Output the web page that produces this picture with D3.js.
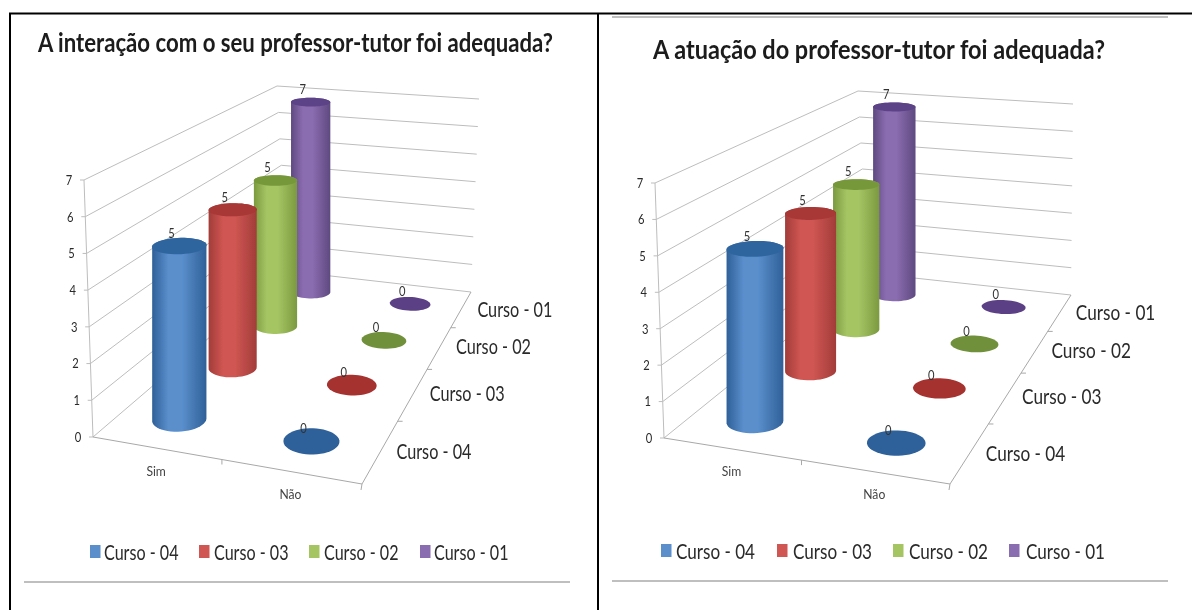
<!DOCTYPE html>
<html><head><meta charset="utf-8">
<script src="https://cdn.jsdelivr.net/npm/d3@7"></script>
<style>html,body{margin:0;padding:0;background:#fff}svg{display:block}text{font-family:Lato,"Open Sans",sans-serif}</style>
</head><body><svg id="c" width="1192" height="610"></svg>
<script>
const answers=["Sim","Não"];
const courses=["Curso - 04","Curso - 03","Curso - 02","Curso - 01"];
const curso04=[5,0],curso03=[5,0],curso02=[5,0],curso01=[7,0];
const seriesValues=[curso04,curso03,curso02,curso01];
const yTicks=[0,1,2,3,4,5,6,7];
const titles=["A interação com o seu professor-tutor foi adequada?","A atuação do professor-tutor foi adequada?"];
const palette=[
 {mid:"#5a8fcc",edge:"#2f6098",top:"#2f659f",disc:"#2d6099"},
 {mid:"#cf5652",edge:"#a23c39",top:"#a73735",disc:"#a5302f"},
 {mid:"#a5c564",edge:"#7b9a3f",top:"#77973a",disc:"#71903a"},
 {mid:"#8a6cb0",edge:"#5f4a80",top:"#5c4286",disc:"#5b3f85"}];

const panels=[
 {title:titles[0],titleX:38,titleW:515,titleY:52,
  floor:[[93,437],[362,484],[471,292],[287,271]],
  top:[[84,180],[367,216],[479,99],[277,86]],
  legend:[[90,104],[199,214],[309,324],[420,434]],legendY:552,ru:.1,rv:.049,textW:75,line:[24,570,582]},
 {title:titles[1],titleX:653,titleW:452,titleY:59,
  floor:[[664,438],[950,484],[1071,295],[868,273]],
  top:[[655,183],[955,218],[1073,104],[858,91]],
  legend:[[661,676],[777,793],[893,909],[1009,1026]],legendY:551,ru:.098,rv:.049,textW:79.5,line:[612,1168,581]}];

function homography(q){
 const [[x0,y0],[x1,y1],[x2,y2],[x3,y3]]=q;
 const dx1=x1-x2,dx2=x3-x2,sx=x0-x1+x2-x3,dy1=y1-y2,dy2=y3-y2,sy=y0-y1+y2-y3;
 const det=dx1*dy2-dx2*dy1;
 const g=(sx*dy2-dx2*sy)/det,h=(dx1*sy-sx*dy1)/det;
 const a=x1-x0+g*x1,b=x3-x0+h*x3,d=y1-y0+g*y1,e=y3-y0+h*y3;
 return (u,v)=>{const w=g*u+h*v+1;return [(a*u+b*v+x0)/w,(d*u+e*v+y0)/w];};
}
const svg=d3.select("#c");
const defs=svg.append("defs");
defs.append("filter").attr("id","soft")
 .attr("filterUnits","userSpaceOnUse").attr("primitiveUnits","userSpaceOnUse")
 .attr("x",0).attr("y",0).attr("width",1192).attr("height",610)
 .append("feGaussianBlur").attr("stdDeviation",.45);
palette.forEach((c,i)=>{
 const g=defs.append("linearGradient").attr("id","grad"+i);
 [[0,c.edge],[.3,c.mid],[.55,c.mid],[1,c.edge]].forEach(([o,col])=>g.append("stop").attr("offset",o).attr("stop-color",col));
});

const root=svg.append("g").attr("filter","url(#soft)");
const uScale=d3.scalePoint().domain(answers).range([-.03,1.006]).padding(.5);
const vScale=d3.scaleBand().domain(courses).range([-.012,.988]);
const hScale=d3.scaleLinear().domain([0,7]).range([0,1]);
const markShrink=.98, topSquash=.68;

function label(g,x,y,t,size,opts={}){
 const s=g.append("text").attr("x",x).attr("y",y).attr("dy",".35em").text(t)
  .attr("font-size",size).attr("fill",opts.fill||"#2a2a2a").attr("text-anchor",opts.anchor||"start");
 if(opts.len) s.attr("textLength",opts.len).attr("lengthAdjust","spacingAndGlyphs");
 return s;
}

panels.forEach(P=>{
 const g=root.append("g");
 const F=homography(P.floor),T=homography(P.top);
 const p=(u,v,val)=>{const a=F(u,v),b=T(u,v),t=hScale(val);return [a[0]+(b[0]-a[0])*t,a[1]+(b[1]-a[1])*t];};
 g.append("text").attr("x",P.titleX).attr("y",P.titleY).text(P.title).attr("font-size",27).attr("font-weight",700)
  .attr("fill","#1a1a1a").attr("textLength",P.titleW).attr("lengthAdjust","spacingAndGlyphs");
 const grid=g.append("g").attr("stroke","#bdbdbd").attr("fill","none").attr("stroke-width",1);
 yTicks.forEach(t=>{
  grid.append("path").attr("d",d3.line()([p(0,0,t),p(0,1,t),p(1,1,t)]));
  const a=p(0,0,t);
  grid.append("line").attr("x1",a[0]-4).attr("y1",a[1]).attr("x2",a[0]).attr("y2",a[1]);
  label(g,a[0]-15,a[1],String(t),14,{anchor:"middle",len:6.5});
 });
 grid.append("path").attr("d",d3.line()([p(0,0,0),p(0,0,7)]));
 grid.append("path").attr("d",d3.line()([p(0,0,0),p(1,0,0),p(1,1,0)])).attr("stroke","#a8a8a8");
 [.5].forEach(u=>{const a=p(u,0,0);grid.append("line").attr("x1",a[0]).attr("y1",a[1]).attr("x2",a[0]).attr("y2",a[1]+5).attr("stroke","#a8a8a8");});
 const vTicks=courses.map(c=>vScale(c));
 vTicks.forEach((v,i)=>{const a=p(1,i?v:0,0);grid.append("line").attr("x1",a[0]).attr("y1",a[1]).attr("x2",a[0]+(i?5:-1)).attr("y2",a[1]+(i?0:6)).attr("stroke","#a8a8a8");});
 const catW={"Sim":19.5,"Não":22};
 answers.forEach(c=>{const a=p(c==="Sim"?.25:.75,0,0);label(g,a[0],a[1]+23,c,13,{anchor:"middle",fill:"#444",len:catW[c]});});
 courses.forEach(c=>{
  const v=vScale(c)+vScale.bandwidth()/2,a=p(1,v,0);
  label(g,a[0]+16.5,a[1]-1,c,22,{len:P.textW});
 });
 const circle=(u,v)=>d3.range(48).map(i=>{const th=i/48*2*Math.PI;return F(u+P.ru*Math.cos(th),v+P.rv*Math.sin(th));});
 const closed=d3.line().curve(d3.curveLinearClosed);
 d3.range(courses.length).reverse().forEach(i=>{
  const v=vScale(courses[i])+vScale.bandwidth()/2;
  answers.forEach((c,j)=>{
   const val=seriesValues[i][j],u=uScale(c),col=palette[i];
   const base=F(u,v);
   const lift=(T(u,v)[1]-base[1])*hScale(val)*markShrink;
   const ring=circle(u,v);
   let tip=[base[0],base[1]+lift];
   if(val===0){
    g.append("path").attr("d",closed(ring)).attr("fill",col.disc);
   }else{
    const topRing=ring.map(([x,y])=>[x,tip[1]+(y-base[1])*topSquash]);
    const hull=d3.polygonHull(ring.concat(topRing));
    g.append("path").attr("d",closed(hull)).attr("fill",`url(#grad${i})`);
    g.append("path").attr("d",closed(topRing)).attr("fill",col.top);
   }
   label(g,tip[0]-8,tip[1]-13,String(val),14,{anchor:"middle",fill:"#333",len:6.5});
  });
 });
 courses.forEach((c,i)=>{
  const [sx,tx]=P.legend[i];
  g.append("rect").attr("x",sx).attr("y",P.legendY-7).attr("width",10.5).attr("height",13).attr("fill",palette[i].mid);
  label(g,tx,P.legendY,c,22,{len:P.textW-.5});
 });
 g.append("line").attr("x1",P.line[0]).attr("x2",P.line[1]).attr("y1",P.line[2]).attr("y2",P.line[2]).attr("stroke","#aaa").attr("stroke-width",1.5);
});
const fr=svg.append("g").attr("stroke","#000").attr("stroke-width",2);
fr.append("line").attr("x1",9).attr("x2",1192).attr("y1",13.5).attr("y2",13.5);
fr.append("line").attr("x1",10).attr("x2",10).attr("y1",13).attr("y2",610);
fr.append("line").attr("x1",598).attr("x2",598).attr("y1",13).attr("y2",610);
svg.append("line").attr("x1",612).attr("x2",1168).attr("y1",17).attr("y2",17).attr("stroke","#aaa").attr("stroke-width",1.5);
</script></body></html>
